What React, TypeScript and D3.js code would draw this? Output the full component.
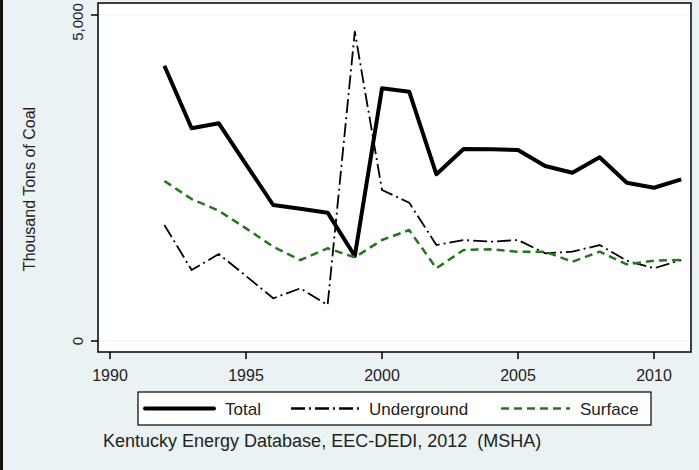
import * as d3 from 'd3';

const years = [1992, 1993, 1994, 1995, 1996, 1997, 1998, 1999, 2000, 2001, 2002, 2003, 2004, 2005, 2006, 2007, 2008, 2009, 2010, 2011];
const total = [4222, 3262, 3339, 2710, 2086, 2029, 1968, 1304, 3875, 3824, 2557, 2945, 2940, 2929, 2684, 2581, 2817, 2428, 2351, 2480];
const underground = [1779, 1089, 1334, 997, 655, 808, 552, 4744, 2316, 2121, 1472, 1549, 1523, 1549, 1345, 1370, 1472, 1232, 1115, 1242];
const surface = [2454, 2178, 1998, 1728, 1446, 1242, 1422, 1284, 1549, 1702, 1115, 1396, 1406, 1370, 1370, 1216, 1370, 1176, 1232, 1242];
const xTicks = [1990, 1995, 2000, 2005, 2010];
const yTicks = [0, 5000];

const W = 699;
const H = 470;
const box = { left: 98, top: 3, right: 691, bottom: 352 };
const bg = '#eaf2f3';
const font = '"Liberation Sans", Arial, sans-serif';
const ink = '#222';

const series = [
  { name: 'Total', values: total, color: '#000', width: 4, dash: null as string | null },
  { name: 'Underground', values: underground, color: '#000', width: 1.8, dash: '14,4,2,4' },
  { name: 'Surface', values: surface, color: '#23781b', width: 2.5, dash: '8,5' },
];

export default function App() {
  const x = d3.scaleLinear().domain([1990, 2010]).range([110, 654]);
  const y = d3.scaleLinear().domain([0, 5000]).range([341, 15]);
  const fmt = d3.format(',');

  const line = (vals: number[]) =>
    d3.line<number>()
      .x((_, i) => x(years[i]))
      .y(d => y(d))(vals) || '';

  // legend layout
  const lg = { x: 138, y: 392, w: 513, h: 33 };
  const legendItems = [
    { lx: 145, tx: 225 },
    { lx: 291, tx: 369 },
    { lx: 501, tx: 580 },
  ];

  return (
    <svg width={W} height={H} style={{ position: 'absolute', left: 0, top: 0, display: 'block' }}>
      <rect x={0} y={0} width={W} height={H} fill={bg} />
      <rect x={0} y={0} width={3} height={H} fill="#111" />

      {/* plot region */}
      <rect x={box.left} y={box.top} width={box.right - box.left} height={box.bottom - box.top} fill="#fff" />
      {yTicks.map(t => (
        <line key={'g' + t} x1={box.left} x2={box.right} y1={y(t)} y2={y(t)} stroke={bg} strokeWidth={1} />
      ))}

      {series.map(s => (
        <path
          key={s.name}
          d={line(s.values)}
          fill="none"
          stroke={s.color}
          strokeWidth={s.width}
          strokeDasharray={s.dash || undefined}
          strokeLinejoin="round"
        />
      ))}

      <rect x={box.left} y={box.top} width={box.right - box.left} height={box.bottom - box.top} fill="none" stroke="#000" strokeWidth={1.5} />

      {/* y axis */}
      {yTicks.map(t => (
        <g key={'y' + t}>
          <line x1={box.left - 7} x2={box.left} y1={y(t)} y2={y(t)} stroke="#000" strokeWidth={1.5} />
          <text
            transform={`translate(83,${Math.max(y(t), 22)}) rotate(-90)`}
            textAnchor="middle"
            fontFamily={font}
            fontSize={15}
            fill={ink}
          >
            {fmt(t)}
          </text>
        </g>
      ))}
      <text
        transform={`translate(35,189) rotate(-90)`}
        textAnchor="middle"
        fontFamily={font}
        fontSize={16}
        fill={ink}
      >
        Thousand Tons of Coal
      </text>

      {/* x axis */}
      {xTicks.map(t => (
        <g key={'x' + t}>
          <line x1={x(t)} x2={x(t)} y1={box.bottom} y2={box.bottom + 7} stroke="#000" strokeWidth={1.5} />
          <text x={x(t)} y={381} textAnchor="middle" fontFamily={font} fontSize={16} fill={ink}>
            {t}
          </text>
        </g>
      ))}

      {/* legend */}
      <rect x={lg.x} y={lg.y} width={lg.w} height={lg.h} fill="#fff" stroke="#000" strokeWidth={1.2} />
      {series.map((s, i) => (
        <g key={'l' + s.name}>
          <line
            x1={legendItems[i].lx}
            x2={legendItems[i].lx + 69}
            y1={lg.y + lg.h / 2}
            y2={lg.y + lg.h / 2}
            stroke={s.color}
            strokeWidth={s.name === 'Underground' ? 2.4 : s.width}
            strokeDasharray={s.dash || undefined}
            strokeLinecap={s.dash ? 'butt' : 'round'}
          />
          <text x={legendItems[i].tx} y={lg.y + lg.h / 2 + 6} fontFamily={font} fontSize={17} fill={ink}>
            {s.name}
          </text>
        </g>
      ))}

      <text x={103} y={447} fontFamily={font} fontSize={18} fill={ink} style={{ whiteSpace: 'pre' }}>
        {'Kentucky Energy Database, EEC-DEDI, 2012  (MSHA)'}
      </text>
    </svg>
  );
}
